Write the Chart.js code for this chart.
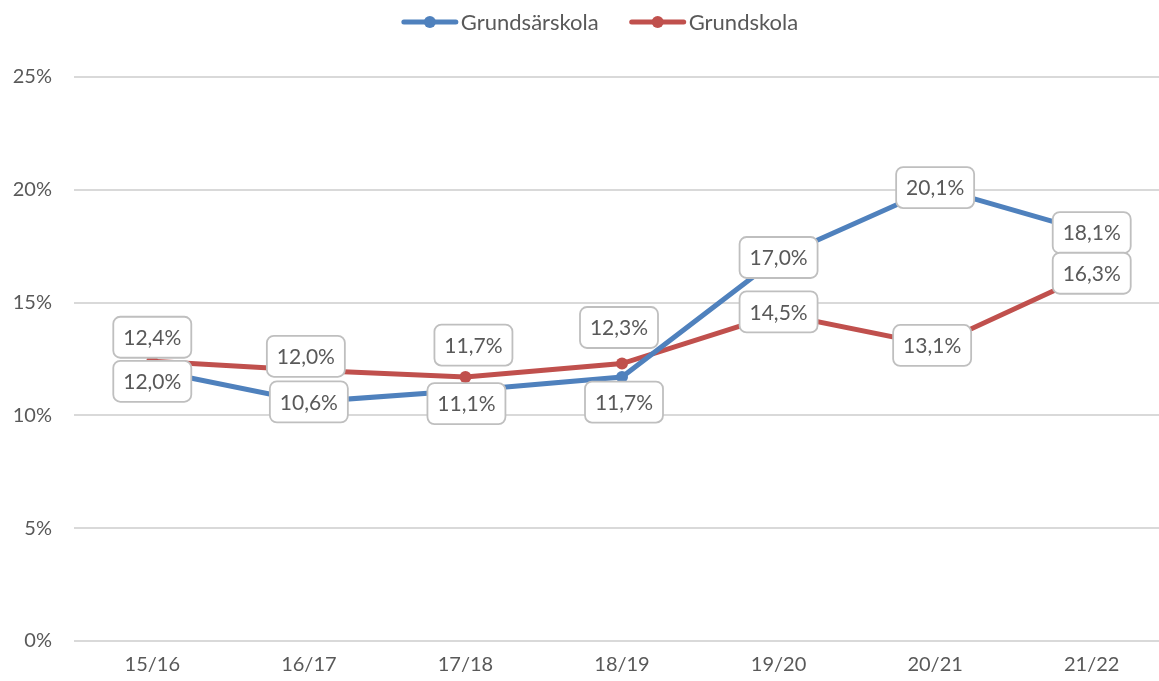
<!DOCTYPE html>
<html><head><meta charset="utf-8">
<script src="https://cdn.jsdelivr.net/npm/chart.js@4.4.1/dist/chart.umd.min.js"></script>
<style>html,body{margin:0;padding:0;overflow:hidden;background:#fff}
#wrap{width:1176px;height:681px;position:relative}</style>
</head><body><div id="wrap"><canvas id="c"></canvas></div>
<script>
const categories = ['15/16','16/17','17/18','18/19','19/20','20/21','21/22'];
const grundsarskola = [12.0, 10.6, 11.1, 11.7, 17.0, 20.1, 18.1];
const grundskola = [12.4, 12.0, 11.7, 12.3, 14.5, 13.1, 16.3];
const yTickValues = [0, 5, 10, 15, 20, 25];
const seriesNames = ['Grundsärskola', 'Grundskola'];
const seriesColors = ['#4F81BD', '#C0504D'];
// label box offsets (px) from each point, like Excel's manually placed labels
const labelShiftBlue = [[0,11],[0,0],[1,13],[2,25],[0,0],[0,0],[0,0]];
const labelShiftRed = [[0,-24],[-3,-14],[8,-32],[-3,-36],[0,-2],[-3,0],[0,0]];

const FONT = 'Lato, "Open Sans", sans-serif';
const TEXT = '#595959';

const fmt = v => v.toFixed(1).replace('.', ',') + '%';

const labelPlugin = {
  id: 'boxLabels',
  afterDatasetsDraw(chart) {
    const ctx = chart.ctx;
    ctx.save();
    ctx.font = '21px ' + FONT;
    ctx.textAlign = 'center';
    ctx.textBaseline = 'middle';
    chart.data.datasets.forEach((ds, di) => {
      const meta = chart.getDatasetMeta(di);
      const shifts = ds.labelShift;
      meta.data.forEach((pt, i) => {
        const cx = pt.x + shifts[i][0];
        const cy = pt.y + shifts[i][1];
        const w = 78, h = 41;
        ctx.beginPath();
        ctx.roundRect(cx - w/2, cy - h/2, w, h, 7);
        ctx.fillStyle = '#ffffff';
        ctx.fill();
        ctx.lineWidth = 1.8;
        ctx.strokeStyle = '#bfbfbf';
        ctx.stroke();
        ctx.fillStyle = TEXT;
        ctx.fillText(fmt(ds.data[i]), cx, cy + 1);
      });
    });
    ctx.restore();
  }
};

const legendPlugin = {
  id: 'lineLegend',
  afterDraw(chart) {
    const ctx = chart.ctx;
    ctx.save();
    ctx.font = '22px ' + FONT;
    ctx.textBaseline = 'middle';
    ctx.textAlign = 'left';
    const lineW = 56, gapText = 3, gapItem = 31, y = 22;
    const items = chart.data.datasets.map(ds => ({label: ds.label, color: ds.borderColor, tw: ctx.measureText(ds.label).width}));
    const total = items.reduce((s, it) => s + lineW + gapText + it.tw, 0) + gapItem * (items.length - 1);
    let x = 600 - total / 2;
    items.forEach(it => {
      ctx.strokeStyle = it.color;
      ctx.lineWidth = 5;
      ctx.lineCap = 'round';
      ctx.beginPath(); ctx.moveTo(x + 2, y); ctx.lineTo(x + lineW - 2, y); ctx.stroke();
      ctx.fillStyle = it.color;
      ctx.beginPath(); ctx.arc(x + lineW/2, y, 6, 0, Math.PI*2); ctx.fill();
      ctx.fillStyle = TEXT;
      ctx.fillText(it.label, x + lineW + gapText, y + 1);
      x += lineW + gapText + it.tw + gapItem;
    });
    ctx.restore();
  }
};

new Chart(document.getElementById('c'), {
  type: 'line',
  data: {
    labels: categories,
    datasets: [
      { label: seriesNames[0], data: grundsarskola, borderColor: seriesColors[0], backgroundColor: seriesColors[0],
        borderWidth: 5, pointRadius: 6, pointBorderWidth: 0, tension: 0, labelShift: labelShiftBlue },
      { label: seriesNames[1], data: grundskola, borderColor: seriesColors[1], backgroundColor: seriesColors[1],
        borderWidth: 5, pointRadius: 6, pointBorderWidth: 0, tension: 0, labelShift: labelShiftRed }
    ]
  },
  options: {
    responsive: true,
    maintainAspectRatio: false,
    animation: false,
    layout: { padding: { top: 77, right: 2, left: 0, bottom: 0 } },
    plugins: { legend: { display: false }, tooltip: { enabled: false } },
    scales: {
      x: {
        offset: true,
        grid: { display: false, drawTicks: false },
        border: { display: false },
        ticks: { color: TEXT, font: { family: FONT, size: 20 }, padding: 12 },
        afterFit(s) { s.height = 40; }
      },
      y: {
        min: 0, max: 25,
        afterBuildTicks(s) { s.ticks = yTickValues.map(v => ({ value: v })); },
        grid: { color: '#d9d9d9', lineWidth: 2, drawTicks: false },
        border: { display: false },
        ticks: { color: TEXT, font: { family: FONT, size: 20 }, padding: 22, callback: v => v + '%' },
        afterFit(s) { s.width = 74; }
      }
    }
  },
  plugins: [labelPlugin, legendPlugin]
});
</script></body></html>
